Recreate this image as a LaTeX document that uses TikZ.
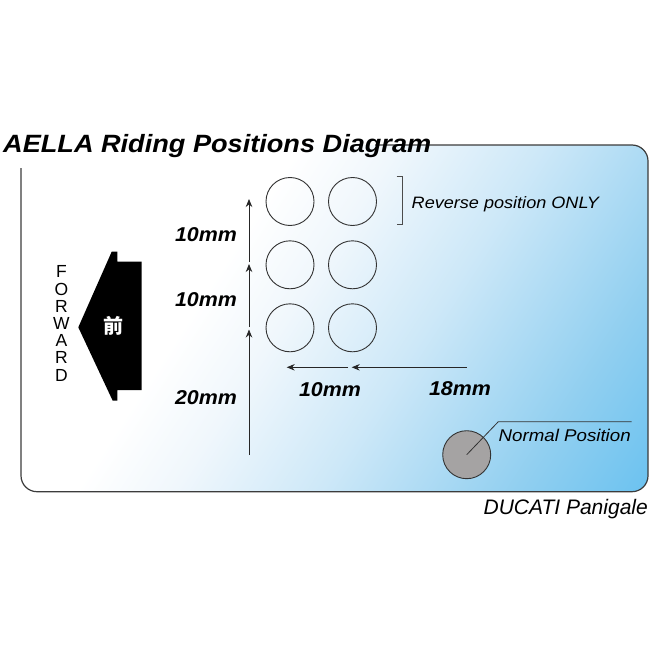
\documentclass[tikz,border=0pt]{standalone}
\usepackage{fontspec}
\setmainfont{Liberation Sans}
\newfontfamily\cjk{Noto Sans CJK JP}
\usepackage{graphicx}
\usetikzlibrary{arrows.meta}
\definecolor{skyb}{RGB}{110,195,240}
\definecolor{shA}{RGB}{240,247,252}
\definecolor{shB}{RGB}{205,232,248}
\definecolor{shC}{RGB}{145,207,240}
\definecolor{linegray}{RGB}{60,60,60}
\definecolor{posgray}{RGB}{165,163,163}
\pgfdeclarehorizontalshading{panelshade}{100bp}{color(0bp)=(white); color(38bp)=(white); color(46bp)=(shA); color(58bp)=(shB); color(74bp)=(shC); color(84bp)=(skyb); color(100bp)=(skyb)}
\begin{document}
\begin{tikzpicture}[x=1pt,y=-1pt,
  frame/.style={draw=linegray, line width=1.2pt},
  hole/.style={circle, draw=black!80, line width=0.9pt, minimum size=48pt, inner sep=0pt},
  dim/.style={draw=black!85, line width=0.9pt, -{Stealth[length=8pt,width=6.5pt]}},
  dimlabel/.style={font=\fontsize{20}{24}\selectfont\bfseries\itshape, inner sep=0pt},
  note/.style={font=\fontsize{17}{20}\selectfont\itshape, inner sep=0pt},
  fwd/.style={font=\fontsize{17.5}{17.2}\selectfont, inner sep=0pt, align=center}
]
\useasboundingbox (0,0) rectangle (650,650);
% panel
\shade[shading=panelshade, shading angle=-33, rounded corners=16pt] (21,145) rectangle (648,491.7);
\draw[frame, rounded corners=16pt] (375,145) -- (648,145) -- (648,491.7) -- (21,491.7) -- (21,168);
% title
\node[anchor=base west, inner sep=0pt, font=\fontsize{25}{30}\selectfont\bfseries\itshape] (title) at (3,152) {\scalebox{1.085}[1]{AELLA Riding Positions Diagram}};
% forward arrow
\fill[black] (78.3,327.3) -- (111.7,251.7) -- (117.3,251.7) -- (117.3,261.7) -- (141.7,261.7) -- (141.7,390) -- (117.3,390) -- (117.3,400.7) -- (112.7,400.7) -- cycle;
\node[text=white, inner sep=0pt, font=\cjk\bfseries\fontsize{20}{20}\selectfont] (mae) at (113,325.5) {前};
\node[fwd] (forward) at (61.5,323.5) {F\\O\\R\\W\\A\\R\\D};
% holes
\node[hole] (h11) at (290,201.5) {};
\node[hole] (h12) at (352.5,201.5) {};
\node[hole] (h21) at (290,264.8) {};
\node[hole] (h22) at (352.5,264.8) {};
\node[hole] (h31) at (290,327.8) {};
\node[hole] (h32) at (352.5,327.8) {};
\node[hole, fill=posgray] (normal) at (466.7,454.7) {};
% vertical dimensions
\coordinate (v0) at (249,455);
\coordinate (v1) at (249,329.5);
\coordinate (v1s) at (249,327);
\coordinate (v2) at (249,264);
\coordinate (v2s) at (249,262);
\coordinate (v3) at (249,199);
\draw[dim] (v0) -- (v1);
\draw[dim] (v1s) -- (v2);
\draw[dim] (v2s) -- (v3);
% horizontal dimensions
\coordinate (hr) at (466.7,367.3);
\coordinate (hm) at (351.7,367.3);
\coordinate (hms) at (348,367.3);
\coordinate (hl) at (286.7,367.3);
\draw[dim] (hr) -- (hm);
\draw[dim] (hms) -- (hl);
% labels
\node[dimlabel] (l1) at (206,235) {\scalebox{1.07}[1]{10mm}};
\node[dimlabel] (l2) at (206,300) {\scalebox{1.07}[1]{10mm}};
\node[dimlabel] (l3) at (206,398) {\scalebox{1.07}[1]{20mm}};
\node[dimlabel] (l4) at (330,390) {\scalebox{1.07}[1]{10mm}};
\node[dimlabel] (l5) at (460,389) {\scalebox{1.07}[1]{18mm}};
% bracket
\coordinate (b1) at (396.7,176.7);
\coordinate (b2) at (396.7,224);
\draw[black!70, line width=0.8pt] (b1) -- ++(6,0) |- (b2);
\node[note, anchor=base west, font=\fontsize{16.5}{20}\selectfont\itshape] (rev) at (411.5,208.3) {\scalebox{1.096}[1]{Reverse position ONLY}};
% normal position
\node[note, anchor=base west] (ntext) at (498.5,441.7) {\scalebox{1.1}[1]{Normal Position}};
\coordinate (ls) at (498.3,421.7);
\coordinate (le) at (631.7,421.7);
\draw[black!80, line width=0.8pt] (normal.center) -- (ls) -- (le);
% model
\node[anchor=base east, inner sep=0pt, font=\fontsize{21}{24}\selectfont\itshape] (model) at (648,514.3) {DUCATI Panigale};
\end{tikzpicture}
\end{document}
